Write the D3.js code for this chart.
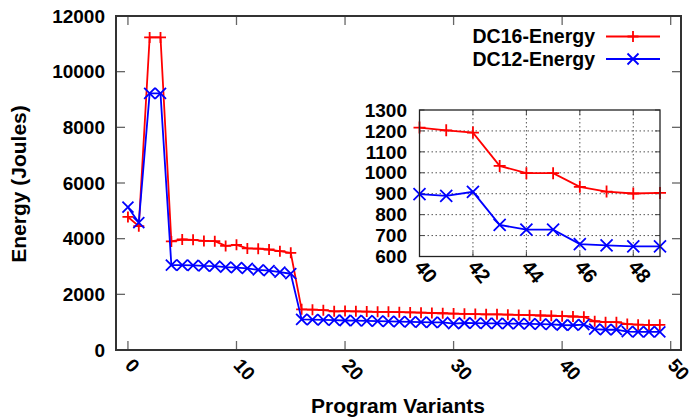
<!DOCTYPE html>
<html><head><meta charset="utf-8">
<script src="https://cdn.jsdelivr.net/npm/d3@7/dist/d3.min.js"></script>
<style>body{margin:0;background:#fff}svg{display:block}text{font-family:"Liberation Sans",Arial,sans-serif;font-weight:bold}</style>
</head><body><svg id="c" width="695" height="417"></svg>
<script>
const variants = d3.range(0, 50);
const dc16 = [4780,4450,11230,11230,3900,3970,3960,3920,3910,3740,3780,3650,3640,3610,3550,3490,
  1460,1450,1430,1390,1400,1390,1380,1370,1370,1360,1350,1340,1330,1320,1310,1300,1290,1280,1280,1270,1260,1250,1240,1230,
  1216,1203,1192,1033,998,998,933,910,901,904];
const dc12 = [5130,4580,9220,9220,3050,3050,3040,3020,3010,2980,2960,2930,2880,2850,2800,2740,
  1100,1090,1080,1070,1060,1055,1050,1040,1030,1020,1010,1000,995,990,950,970,965,960,955,950,945,940,930,920,
  898,890,909,751,728,728,659,653,648,648];
const xTicks = [0,10,20,30,40,50];
const yTicks = [0,2000,4000,6000,8000,10000,12000];
const insetXTicks = [40,42,44,46,48];
const insetYTicks = [600,700,800,900,1000,1100,1200,1300];
const seriesNames = ["DC16-Energy","DC12-Energy"];
const seriesColors = ["#ff0000","#0000ff"];
const seriesMarks = ["plus","cross"];

const svg = d3.select("#c");
const M = {l:116, r:681, t:16, b:350};
const x = d3.scaleLinear().domain([-1.1, 50.95]).range([M.l, M.r]);
const y = d3.scaleLinear().domain([0, 12000]).range([M.b, M.t]);

function marker(g, type, cx, cy, s, color) {
  const h = s/2;
  const p = type === "plus"
    ? `M${cx-h},${cy}L${cx+h},${cy}M${cx},${cy-h}L${cx},${cy+h}`
    : `M${cx-h},${cy-h}L${cx+h},${cy+h}M${cx-h},${cy+h}L${cx+h},${cy-h}`;
  g.append("path").attr("d", p).attr("stroke", color).attr("stroke-width", 1.8).attr("fill","none");
}

const tickG = svg.append("g").attr("stroke","#666").attr("stroke-width",1.3);
xTicks.forEach(t => {
  tickG.append("line").attr("x1",x(t)).attr("x2",x(t)).attr("y1",M.b).attr("y2",M.b-9);
  tickG.append("line").attr("x1",x(t)).attr("x2",x(t)).attr("y1",M.t).attr("y2",M.t+9);
});
yTicks.forEach(t => {
  tickG.append("line").attr("x1",M.l).attr("x2",M.l+9).attr("y1",y(t)).attr("y2",y(t));
  tickG.append("line").attr("x1",M.r).attr("x2",M.r-9).attr("y1",y(t)).attr("y2",y(t));
});

yTicks.forEach(t => {
  svg.append("text").attr("x", 105).attr("y", y(t)).attr("dy","0.35em")
    .attr("text-anchor","end").attr("font-size",19).text(t);
});
xTicks.forEach(t => {
  svg.append("text").attr("transform",`translate(${x(t)-4},${M.b+16}) rotate(48)`)
    .attr("text-anchor","start").attr("font-size",19).text(t);
});

svg.append("text").attr("x", 398).attr("y", 413).attr("text-anchor","middle").attr("font-size",21).text("Program Variants");
svg.append("text").attr("transform","translate(26,184) rotate(-90)").attr("text-anchor","middle").attr("font-size",21).text("Energy (Joules)");

const data = [dc16, dc12];
data.forEach((vals, i) => {
  const line = d3.line().x((d,j)=>x(variants[j])).y(d=>y(d));
  svg.append("path").datum(vals).attr("d", line).attr("fill","none")
    .attr("stroke", seriesColors[i]).attr("stroke-width", 1.8).attr("stroke-linejoin","round");
  const g = svg.append("g");
  vals.forEach((v,j) => marker(g, seriesMarks[i], x(variants[j]), y(v), 11, seriesColors[i]));
});

svg.append("rect").attr("x",M.l).attr("y",M.t).attr("width",M.r-M.l).attr("height",M.b-M.t)
  .attr("fill","none").attr("stroke","#333").attr("stroke-width",2);

seriesNames.forEach((n,i) => {
  const cy = 36.5 + i*22.5;
  svg.append("text").attr("x",595).attr("y",cy).attr("dy","0.35em").attr("text-anchor","end").attr("font-size",19.5).text(n);
  svg.append("line").attr("x1",606).attr("x2",660).attr("y1",cy).attr("y2",cy).attr("stroke",seriesColors[i]).attr("stroke-width",1.8);
  marker(svg, seriesMarks[i], 633, cy, 11, seriesColors[i]);
});

const I = {l:419.5, r:660, t:110, b:256.5};
const ix = d3.scaleLinear().domain([40,49]).range([I.l, I.r]);
const iy = d3.scaleLinear().domain([600,1300]).range([I.b, I.t]);
svg.append("rect").attr("x",I.l).attr("y",I.t).attr("width",I.r-I.l).attr("height",I.b-I.t).attr("fill","#fff");
const gridG = svg.append("g").attr("stroke","#555").attr("stroke-width",1).attr("stroke-dasharray","1.5,2.5");
insetXTicks.filter(t=>t>40).forEach(t => gridG.append("line").attr("x1",ix(t)).attr("x2",ix(t)).attr("y1",I.t).attr("y2",I.b));
insetYTicks.filter(t=>t>600 && t<1300).forEach(t => gridG.append("line").attr("x1",I.l).attr("x2",I.r).attr("y1",iy(t)).attr("y2",iy(t)));
const iTick = svg.append("g").attr("stroke","#444").attr("stroke-width",1);
insetXTicks.forEach(t => {
  iTick.append("line").attr("x1",ix(t)).attr("x2",ix(t)).attr("y1",I.b).attr("y2",I.b-5);
  iTick.append("line").attr("x1",ix(t)).attr("x2",ix(t)).attr("y1",I.t).attr("y2",I.t+5);
});
insetYTicks.forEach(t => {
  iTick.append("line").attr("x1",I.l).attr("x2",I.l+5).attr("y1",iy(t)).attr("y2",iy(t));
  iTick.append("line").attr("x1",I.r).attr("x2",I.r-5).attr("y1",iy(t)).attr("y2",iy(t));
});
insetYTicks.forEach(t => {
  svg.append("text").attr("x",407).attr("y",iy(t)).attr("dy","0.35em").attr("text-anchor","end").attr("font-size",19).text(t);
});
insetXTicks.forEach(t => {
  svg.append("text").attr("transform",`translate(${ix(t)-6},${I.b+11}) rotate(50)`)
    .attr("text-anchor","start").attr("font-size",20).text(t);
});
const idx = variants.filter(v => v >= 40);
data.forEach((vals,i) => {
  const pts = idx.map(v => [v, vals[v]]);
  const line = d3.line().x(d=>ix(d[0])).y(d=>iy(d[1]));
  svg.append("path").datum(pts).attr("d", line).attr("fill","none")
    .attr("stroke", seriesColors[i]).attr("stroke-width", 1.8);
  const g = svg.append("g");
  pts.forEach(d => marker(g, seriesMarks[i], ix(d[0]), iy(d[1]), 12, seriesColors[i]));
});
svg.append("rect").attr("x",I.l).attr("y",I.t).attr("width",I.r-I.l).attr("height",I.b-I.t)
  .attr("fill","none").attr("stroke","#222").attr("stroke-width",1.3);
</script></body></html>
